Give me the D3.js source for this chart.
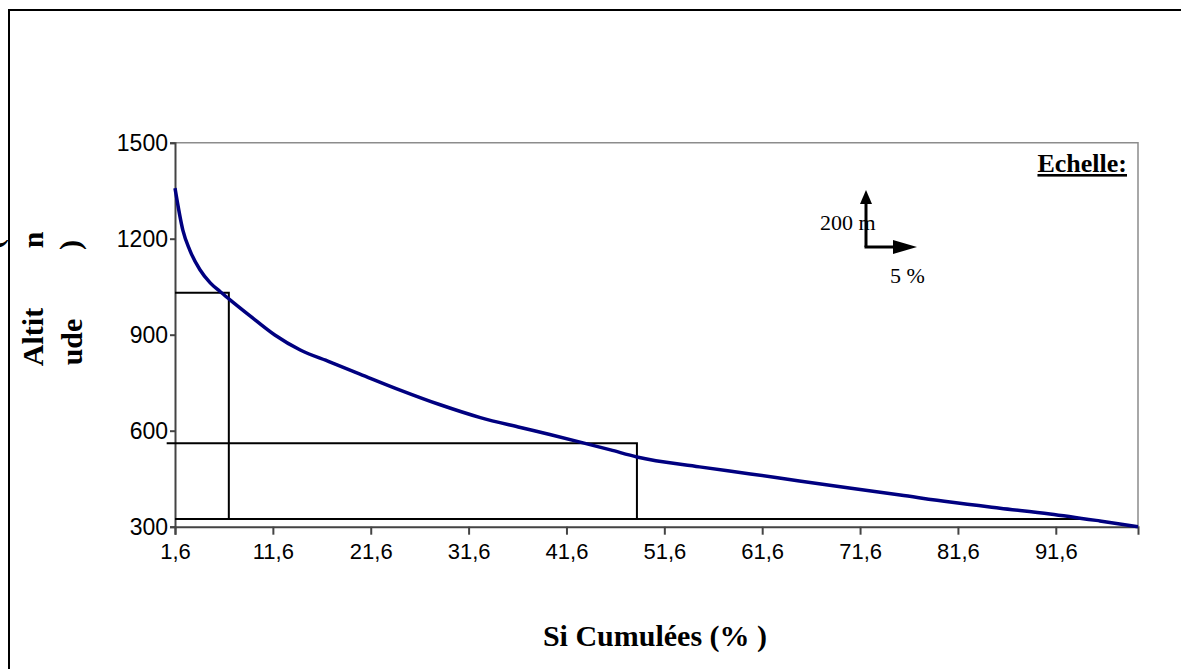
<!DOCTYPE html>
<html>
<head>
<meta charset="utf-8">
<script src="https://cdn.jsdelivr.net/npm/d3@7"></script>
<style>
  body { margin: 0; background: #fff; }
</style>
</head>
<body>
<div id="chart"></div>
<script>
// SVG size
const width = 1181;
const height = 669;
const plot = { left: 175, right: 1138, top: 142.7, bottom: 526.7 };

// hypsometric curve: cumulated surface (%) vs altitude (m)
const siCumulees = [1.6, 2.4, 3.1, 4.15, 5.2, 6.2, 7.1, 9.3, 11.8, 14.4, 17.4, 20.5, 24.6, 28.7, 32.8, 36.9, 39.9, 43.3, 46.1, 48.8, 55.2, 60.4, 65.4, 70.5, 75.7, 80.8, 85.9, 91.0, 96.1, 100];
const altitudes = [1358, 1227, 1165, 1103, 1062, 1035, 1012, 958, 899, 852, 815, 777, 727, 681, 641, 610, 588, 562, 540, 518, 487, 465, 443, 421, 399, 377, 358, 340, 318, 300];

// reading lines
const refSi = [7.1, 48.8];
const refAlt = [1031, 561];
const refStart = [1.6, 0.75];
const baseAlt = 324;
const baseEnd = 94.6;

// axes
const xTicks = [1.6, 11.6, 21.6, 31.6, 41.6, 51.6, 61.6, 71.6, 81.6, 91.6];
const yTicks = [300, 600, 900, 1200, 1500];

const svg = d3.select("#chart")
  .append("svg")
  .attr("width", width)
  .attr("height", height)
  .style("display", "block");

svg.append("rect").attr("width", width).attr("height", height).attr("fill", "#fff");

const xScale = d3.scaleLinear().domain([1.6, 100]).range([plot.left, plot.right]);
const yScale = d3.scaleLinear().domain([300, 1500]).range([plot.bottom, plot.top]);

// outer frame (top + left only)
svg.append("path")
  .attr("d", `M9,${height}V10H${width}`)
  .attr("fill", "none")
  .attr("stroke", "#000")
  .attr("stroke-width", 2);

// plot area border (grey top / right)
svg.append("path")
  .attr("d", `M${plot.left},${plot.top}H${plot.right}V${plot.bottom}`)
  .attr("fill", "none")
  .attr("stroke", "#8c8c8c")
  .attr("stroke-width", 1.5);

// Y axis
const yAxis = svg.append("g")
  .attr("transform", `translate(${plot.left},0)`)
  .call(d3.axisLeft(yScale).tickValues(yTicks).tickSize(5).tickPadding(2).tickFormat(d3.format("d")));
yAxis.selectAll("text").style("font-family", "Arial, 'Liberation Sans'").style("font-size", "23px").attr("fill", "#000");

// X axis
const xAxis = svg.append("g")
  .attr("transform", `translate(0,${plot.bottom})`)
  .call(d3.axisBottom(xScale).tickValues(xTicks).tickSize(8).tickPadding(9).tickFormat(d => String(d).replace(".", ",")));
xAxis.selectAll("text").style("font-family", "Arial, 'Liberation Sans'").style("font-size", "22px").attr("fill", "#000");

[yAxis, xAxis].forEach(g => {
  g.select(".domain").attr("stroke", "#444").attr("stroke-width", 2);
  g.selectAll(".tick line").attr("stroke", "#444").attr("stroke-width", 2);
});

// reading lines
const refLines = svg.append("g")
  .attr("stroke", "#000")
  .attr("stroke-width", 2)
  .attr("fill", "none");

refSi.forEach((s, i) => {
  refLines.append("path")
    .attr("d", `M${xScale(refStart[i])},${yScale(refAlt[i])}H${xScale(s)}V${yScale(baseAlt)}`);
});
refLines.append("line")
  .attr("x1", xScale(1.6)).attr("x2", xScale(baseEnd))
  .attr("y1", yScale(baseAlt)).attr("y2", yScale(baseAlt));

// curve
const line = d3.line()
  .x((d, i) => xScale(siCumulees[i]))
  .y(d => yScale(d))
  .curve(d3.curveMonotoneX);

svg.append("path")
  .datum(altitudes)
  .attr("d", line)
  .attr("fill", "none")
  .attr("stroke", "#000080")
  .attr("stroke-width", 3.5)
  .attr("stroke-linejoin", "round");

// Scale legend
svg.append("text")
  .attr("x", 1127)
  .attr("y", 172)
  .attr("text-anchor", "end")
  .style("font-family", "'Liberation Serif', 'Times New Roman', serif")
  .style("font-weight", "bold")
  .style("font-size", "26px")
  .style("text-decoration", "underline")
  .text("Echelle:");

const cx = 866, cy = 247;
const arrows = svg.append("g").attr("stroke", "#000").attr("stroke-width", 3);
arrows.append("line").attr("x1", cx).attr("y1", cy).attr("x2", cx).attr("y2", cy - 46);
arrows.append("line").attr("x1", cx - 1.5).attr("y1", cy).attr("x2", cx + 28).attr("y2", cy);
svg.append("path").attr("d", `M${cx},${cy - 57}L${cx - 6},${cy - 43}L${cx + 6},${cy - 43}Z`).attr("fill", "#000");
svg.append("path").attr("d", `M${cx + 51},${cy}L${cx + 27},${cy - 7}L${cx + 27},${cy + 7}Z`).attr("fill", "#000");

svg.append("text")
  .attr("x", 820).attr("y", 230)
  .style("font-family", "'Liberation Serif', 'Times New Roman', serif")
  .style("font-size", "22px")
  .text("200 m");

svg.append("text")
  .attr("x", 890).attr("y", 283)
  .style("font-family", "'Liberation Serif', 'Times New Roman', serif")
  .style("font-size", "22px")
  .text("5 %");

// axis titles
const serifBold = sel => sel
  .style("font-family", "'Liberation Serif', 'Times New Roman', serif")
  .style("font-weight", "bold")
  .style("font-size", "30px");

svg.append("text")
  .attr("x", 655)
  .attr("y", 646)
  .attr("text-anchor", "middle")
  .call(serifBold)
  .text("Si Cumulées (% )");

// y title, broken over rotated lines as in the original
const yTitle = [
  { t: "Altit", x: 43, y: 337 },
  { t: "n", x: 43, y: 240 },
  { t: "ude", x: 82, y: 342 },
  { t: ")", x: 80, y: 245 },
  { t: "(", x: 2, y: 244 }
];
yTitle.forEach(d => {
  svg.append("text")
    .attr("transform", `translate(${d.x},${d.y}) rotate(-90)`)
    .attr("text-anchor", "middle")
    .call(serifBold)
    .text(d.t);
});
</script>
</body>
</html>
